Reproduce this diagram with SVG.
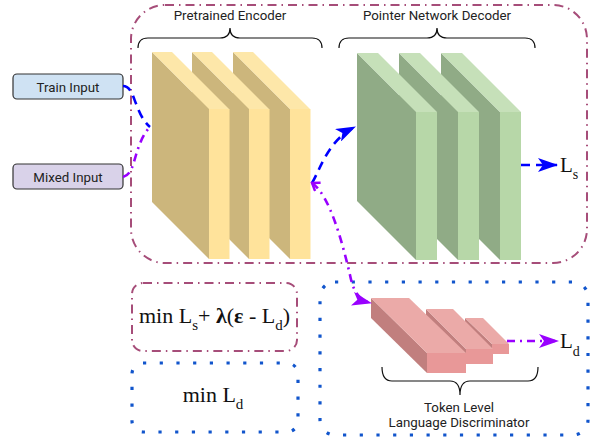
<svg xmlns="http://www.w3.org/2000/svg" width="594" height="439" viewBox="0 0 594 439">
<style>
.lbl{font-family:Roboto,"Liberation Sans",sans-serif;font-size:13.3px;fill:#222;text-anchor:middle}
.math{font-family:"Liberation Serif","Times New Roman",serif;fill:#111}
.brace{fill:none;stroke:#111;stroke-width:1.2}
.mauve{fill:none;stroke:#a64d79;stroke-width:2;stroke-dasharray:9 5 1.5 5}
.dots{fill:none;stroke:#1155cc;stroke-width:3.2;stroke-dasharray:3.2 13.5}
.inbox{stroke:#333;stroke-width:1.2}
.ydark{fill:#ccb67c}.yfront{fill:#ffe39b}.ytop{fill:#fde7a9}
.gdark{fill:#90ab86}.gfront{fill:#b7d7a8}.gtop{fill:#c6e0b9}
.pleft{fill:#c17f7e}.pfront{fill:#e89898}.ptop{fill:#ebaaa8}
.blue{fill:none;stroke:#0000ff;stroke-width:2.6;stroke-dasharray:9 6}
.purple{fill:none;stroke:#9900ff;stroke-width:2.6;stroke-dasharray:8 5 2 5}
</style>
<defs>
<marker id="arrB" markerUnits="userSpaceOnUse" markerWidth="21" markerHeight="14" refX="19" refY="7" orient="auto"><path d="M0,0 L20,7 L0,14 L5,7 Z" fill="#0000ff"/></marker>
<marker id="arrP" markerUnits="userSpaceOnUse" markerWidth="21" markerHeight="14" refX="19" refY="7" orient="auto"><path d="M0,0 L20,7 L0,14 L5,7 Z" fill="#9900ff"/></marker>
<marker id="chevP" markerUnits="userSpaceOnUse" markerWidth="10" markerHeight="12" refX="8" refY="6" orient="auto-start-reverse"><path d="M1,1 L8,6 L1,11" fill="none" stroke="#9900ff" stroke-width="2.4"/></marker>
</defs>
<rect width="594" height="439" fill="#fff"/>

<g id="main-frame"><rect class="mauve" x="131" y="5" width="456" height="258" rx="34"/></g>

<g id="encoder">
<text class="lbl" x="230" y="20">Pretrained Encoder</text>
<path class="brace" d="M138,48 Q138,38 148,38 L220,38 Q230,38 230,28 Q230,38 240,38 L312,38 Q322,38 322,48"/>
<g id="enc3"><polygon class="ydark" points="233,52 290,109 290,259 233,202"/><polygon class="ytop" points="233,52 253,52 310,109 290,109"/><rect class="yfront" x="290" y="109" width="20.5" height="150"/></g>
<g id="enc2"><polygon class="ydark" points="192,52 249,109 249,259 192,202"/><polygon class="ytop" points="192,52 212,52 269,109 249,109"/><rect class="yfront" x="249" y="109" width="20.5" height="150"/></g>
<g id="enc1"><polygon class="ydark" points="152,52 209,109 209,259 152,202"/><polygon class="ytop" points="152,52 172,52 229,109 209,109"/><rect class="yfront" x="209" y="109" width="20.5" height="150"/></g>
</g>

<g id="decoder">
<text class="lbl" x="437" y="20">Pointer Network Decoder</text>
<path class="brace" d="M339,48 Q339,38 349,38 L427,38 Q437,38 437,28 Q437,38 447,38 L525,38 Q535,38 535,48"/>
<g id="dec3"><polygon class="gdark" points="441,53 500,112 500,260 441,201"/><polygon class="gtop" points="441,53 462,53 521,112 500,112"/><rect class="gfront" x="500" y="112" width="21" height="148"/></g>
<g id="dec2"><polygon class="gdark" points="399,53 458,112 458,260 399,201"/><polygon class="gtop" points="399,53 420,53 479,112 458,112"/><rect class="gfront" x="458" y="112" width="21" height="148"/></g>
<g id="dec1"><polygon class="gdark" points="357,53 416,112 416,260 357,201"/><polygon class="gtop" points="357,53 378,53 437,112 416,112"/><rect class="gfront" x="416" y="112" width="21" height="148"/></g>
</g>

<g id="train-input"><rect class="inbox" x="13" y="74" width="110" height="25" rx="4" fill="#cfe2f3"/><text class="lbl" x="68" y="91.5">Train Input</text></g>
<g id="mixed-input"><rect class="inbox" x="13" y="164" width="110" height="25" rx="4" fill="#d9d2e9"/><text class="lbl" x="68" y="181.5">Mixed Input</text></g>

<g id="objective-1"><rect class="mauve" x="132" y="283" width="165" height="68" rx="11"/>
<text class="math" x="214.5" y="323" font-size="22" text-anchor="middle">min L<tspan font-size="15" dy="7">s</tspan><tspan dy="-7">+ </tspan><tspan font-weight="bold">λ</tspan>(<tspan font-weight="bold">ε</tspan> - L<tspan font-size="15" dy="7">d</tspan><tspan dy="-7">)</tspan></text></g>

<g id="objective-2"><rect class="dots" x="132" y="363" width="166" height="69" rx="11"/>
<text class="math" x="213" y="402" font-size="22" text-anchor="middle">min L<tspan font-size="15" dy="7">d</tspan></text></g>

<g id="discriminator"><rect class="dots" x="320" y="282" width="268" height="153" rx="15"/>
<g id="disc3"><polygon class="pleft" points="465,318 492,344 492,354 465,328"/><polygon class="ptop" points="465,318 483,318 509,344 492,344"/><rect class="pfront" x="492" y="344" width="17" height="10"/></g>
<g id="disc2"><polygon class="pleft" points="426,309 466,349 466,364 426,324"/><polygon class="ptop" points="426,309 453,309 493,349 466,349"/><rect class="pfront" x="466" y="349" width="27" height="15"/></g>
<g id="disc1"><polygon class="pleft" points="371,298 427,353 427,373 371,318"/><polygon class="ptop" points="371,298 409,298 466,353 427,353"/><rect class="pfront" x="427" y="353" width="39" height="20"/></g>
<path class="brace" d="M382,367 Q382,381 392,381 L450,381 Q460,381 460,395 Q460,381 470,381 L528,381 Q538,381 538,367"/>
<text class="lbl" x="459" y="412">Token Level</text>
<text class="lbl" x="459" y="427">Language Discriminator</text>
</g>

<g id="loss-s"><text class="math" x="560" y="172" font-size="21">L<tspan font-size="14" dy="7">s</tspan></text></g>
<g id="loss-d"><text class="math" x="560" y="348" font-size="21">L<tspan font-size="14" dy="8">d</tspan></text></g>

<g id="connectors">
<path class="blue" d="M123,86 C131,86 133,97 137,106 C140,114 144,122 150,127"/>
<path class="purple" d="M123,177 C131,175 133,165 136,155 C139,145 143,134 150,127"/>
<path class="blue" d="M312,183 C320,170 328,140 355,127" marker-end="url(#arrB)"/>
<path class="purple" d="M312,183 C330,195 343,245 350,275 C353,290 358,300 371,303" marker-start="url(#chevP)" marker-end="url(#arrP)"/>
<path class="blue" d="M521,165 L557,165" marker-end="url(#arrB)"/>
<path class="purple" d="M507,341 L558,341" marker-end="url(#arrP)"/>
</g>
</svg>
